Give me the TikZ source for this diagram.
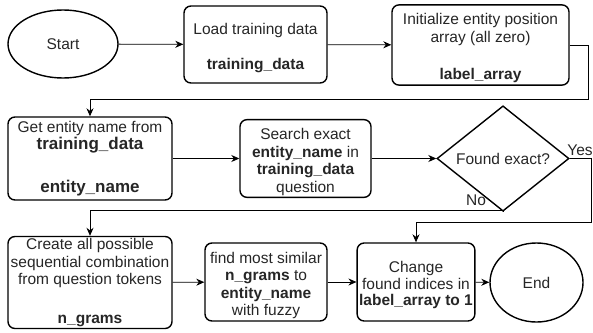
\documentclass[tikz,border=0pt]{standalone}
\usepackage{fontspec}
\setmainfont{Liberation Sans}
\usetikzlibrary{shapes.geometric,arrows.meta}

% raises the first line of a box so its text block sits a little lower
\newcommand{\topgap}{\rule{0pt}{18pt}}

\begin{document}
\begin{tikzpicture}[x=1pt,y=-1pt,
  txt/.style={font=\fontsize{15.5}{17.5}\selectfont,text=black!85},
  box/.style={txt,draw=black,line width=1.4pt,rounded corners=7pt,align=center,inner sep=2pt},
  term/.style={txt,draw=black,ellipse,line width=1.4pt,inner sep=0pt},
  decision/.style={txt,draw=black,diamond,line width=1.4pt,inner sep=0pt},
  flow/.style={line width=0.8pt,-{Stealth[length=8pt,width=7pt]}},
  big/.style={font=\fontsize{17}{19}\selectfont\bfseries}
]
\useasboundingbox (0,0) rectangle (593,332);

% first row
\node[term, minimum width=110pt, minimum height=68pt] (start) at (63,44) {Start};
\node[box, minimum width=143pt, minimum height=77pt] (load) at (255.5,44.5)
  {\topgap Load training data\\[17.5pt]\textbf{training\_data}};
\node[box, minimum width=177pt, minimum height=78pt] (init) at (480.5,45)
  {\topgap Initialize entity position\\array (all zero)\\[20pt]\textbf{label\_array}};

% second row
\node[box, minimum width=164pt, minimum height=83pt] (get) at (90,158.5)
  {Get entity name from\\{\fontsize{17}{19}\selectfont\bfseries training\_data}\\[25pt]{\fontsize{17}{19}\selectfont\bfseries entity\_name}};
\node[box, minimum width=131pt, minimum height=77pt] (search) at (305.5,158.5)
  {\topgap Search exact\\\textbf{entity\_name} in\\\textbf{training\_data}\\question};
\node[decision, minimum width=132pt, minimum height=83pt] (found) at (503,158.5)
  {Found exact?};

% third row
\node[box, minimum width=164pt, minimum height=89pt] (create) at (90,282.5)
  {Create all possible\\sequential combination\\from question tokens\\[21pt]\textbf{n\_grams}};
\node[box, minimum width=122pt, minimum height=78pt] (find) at (266,282)
  {\topgap find most similar\\\textbf{n\_grams} to\\\textbf{entity\_name}\\with fuzzy};
\node[box, minimum width=112pt, minimum height=78pt, font=\fontsize{15.5}{16.5}\selectfont] (change) at (416,282)
  {\topgap Change\\found indices in\\\textbf{label\_array to 1}};
\node[term, minimum width=93pt, minimum height=79pt] (end) at (536.5,282.5) {End};

% bend points of the routed connectors
\coordinate (wrapA) at (588,99);
\coordinate (wrapNo) at (90,210);
\coordinate (wrapYes) at (591.5,222);

% connectors
\draw[flow] (start) -- (load);
\draw[flow] (load) -- (init);
\draw[flow] (init.east) -| (wrapA) -| (get.north);
\draw[flow] (get) -- (search);
\draw[flow] (search) -- (found);
\draw[flow] (found.east) -| (wrapYes) -| (change.north);
\draw[flow] (found.south) |- (wrapNo) -- (create.north);
\draw[flow] (create) -- (find);
\draw[flow] (find) -- (change);
\draw[flow] (change) -- (end);

% branch labels
\node[txt] (yes) at (580,150) {Yes};
\node[txt] (no) at (476,200) {No};
\end{tikzpicture}
\end{document}
